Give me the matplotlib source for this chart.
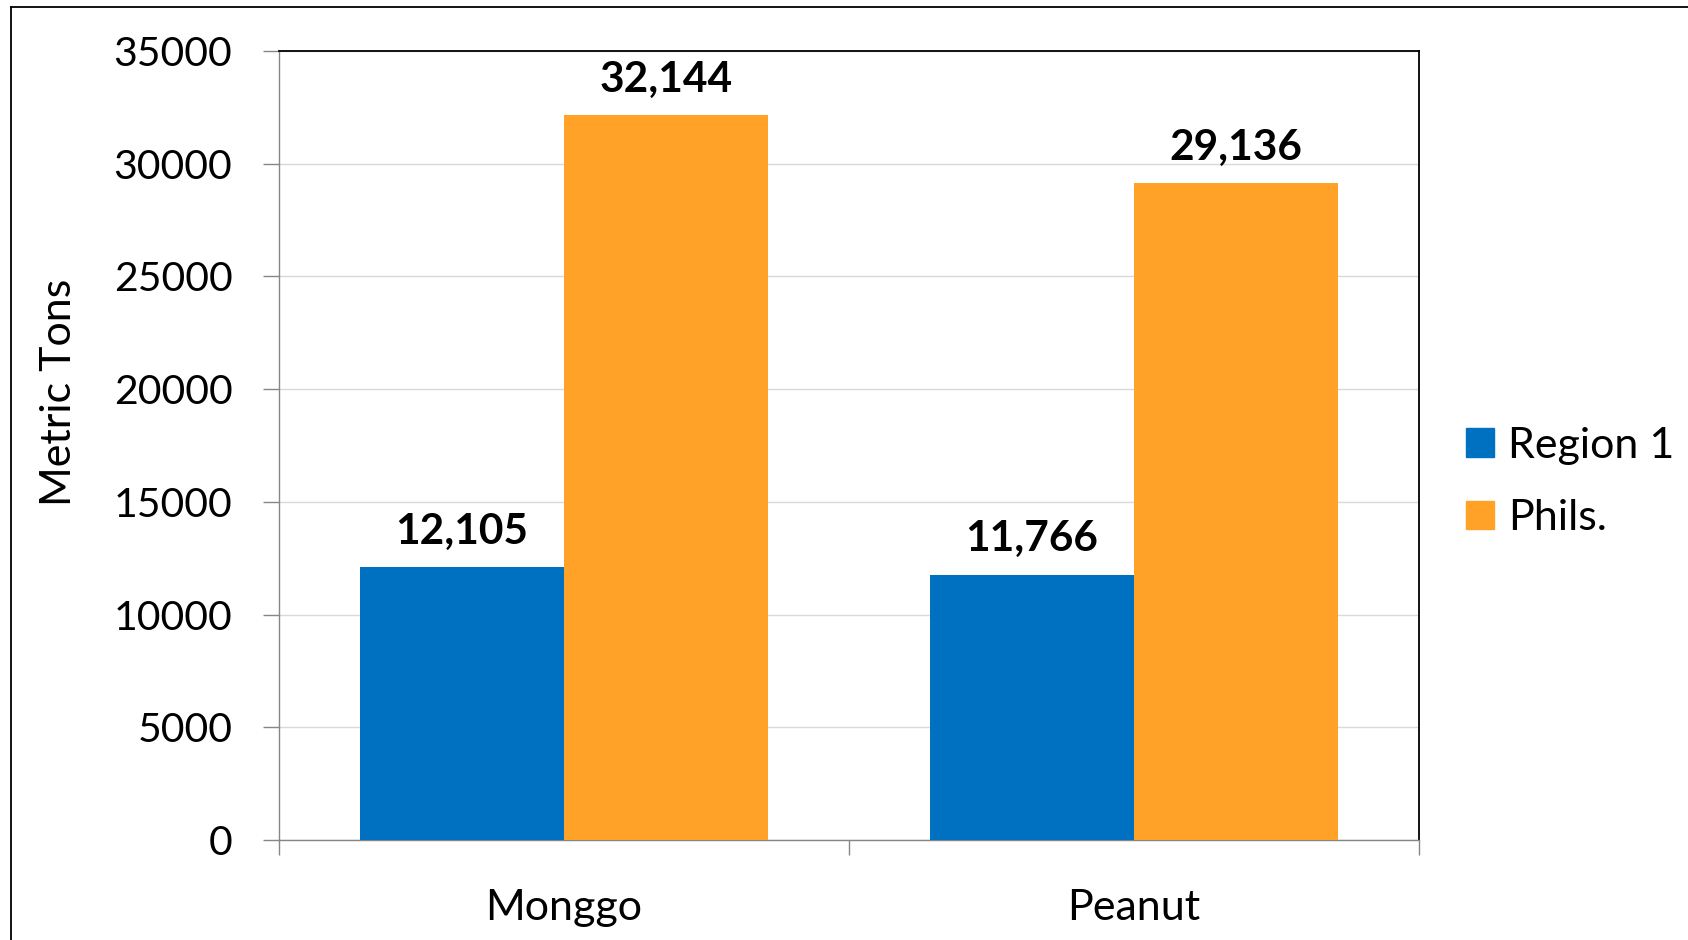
import matplotlib
matplotlib.use("Agg")
import matplotlib.pyplot as plt
from matplotlib.lines import Line2D
import numpy as np

categories = ["Monggo", "Peanut"]
series_names = ["Region 1", "Phils."]
region1 = [12105, 11766]
phils = [32144, 29136]
yticks = [0, 5000, 10000, 15000, 20000, 25000, 30000, 35000]

plt.rcParams['font.family'] = ['Lato', 'DejaVu Sans']

W, H = 1688, 940
fig = plt.figure(figsize=(W / 100, H / 100), dpi=100)
ax = fig.add_axes([279 / W, 1 - 840 / H, (1419 - 279) / W, (840 - 51) / H])

colors = ["#0070C0", "#FFA227"]
bw = 0.358
x = np.arange(len(categories)) + 0.5
b1 = ax.bar(x - bw / 2, region1, bw, color=colors[0], label=series_names[0], zorder=3)
b2 = ax.bar(x + bw / 2, phils, bw, color=colors[1], label=series_names[1], zorder=3)

for bars in (b1, b2):
    for r in bars:
        v = r.get_height()
        ax.annotate(f"{int(v):,}", (r.get_x() + r.get_width() / 2, v),
                    xytext=(0, 12), textcoords="offset points",
                    ha="center", va="bottom", fontsize=30.5, fontweight="bold",
                    color="black")

ax.set_xlim(0, 2)
ax.set_ylim(0, 35000)
ax.set_yticks(yticks)
ax.set_yticklabels([str(t) for t in yticks], fontsize=29.5)
ax.set_xticks([0, 1, 2])
ax.set_xticklabels([])
ax.set_xticks(x, minor=True)
ax.set_xticklabels(categories, minor=True, fontsize=31)
ax.tick_params(axis="x", which="major", length=11, width=1.0, color="#868686", direction="out")
ax.tick_params(axis="x", which="minor", length=0, pad=35)
ax.tick_params(axis="y", length=11.5, width=1.0, color="#868686", direction="out", pad=22)

ax.yaxis.grid(True, color="#D9D9D9", lw=1.0, zorder=0)
ax.set_axisbelow(True)
for s in ("left", "bottom"):
    ax.spines[s].set_color("#868686")
    ax.spines[s].set_linewidth(1.0)
for s in ("top", "right"):
    ax.spines[s].set_color("black")
    ax.spines[s].set_linewidth(1.3)

fig.text(59 / W, 1 - 392 / H, "Metric Tons", rotation=90, ha="center", va="center", fontsize=31)

handles = [plt.Rectangle((0, 0), 1, 1, color=c) for c in colors]
fig.legend(handles, series_names, loc="center left", bbox_to_anchor=(1466 / W, 1 - 482 / H),
           frameon=False, fontsize=31, handlelength=0.65, handleheight=0.65,
           handletextpad=0.33, labelspacing=0.8, borderpad=0, borderaxespad=0)

# outer border
fig.add_artist(Line2D([11 / W, 1], [1 - 7 / H, 1 - 7 / H], transform=fig.transFigure, color="black", lw=1.3))
fig.add_artist(Line2D([11 / W, 11 / W], [0, 1 - 7 / H], transform=fig.transFigure, color="black", lw=1.3))

fig.savefig("out.png", dpi=100)
